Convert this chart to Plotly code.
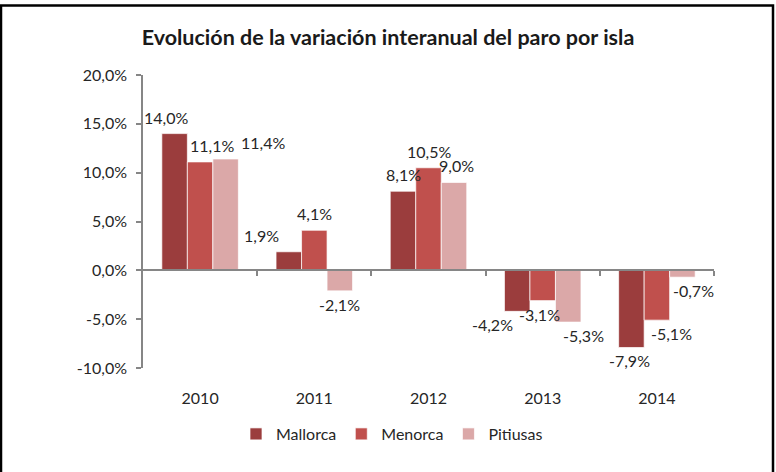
import plotly.graph_objects as go

years = ["2010", "2011", "2012", "2013", "2014"]
series_names = ["Mallorca", "Menorca", "Pitiusas"]
mallorca = [14.0, 1.9, 8.1, -4.2, -7.9]
menorca = [11.1, 4.1, 10.5, -3.1, -5.1]
pitiusas = [11.4, -2.1, 9.0, -5.3, -0.7]
colors = ["#9B3D3D", "#C0504D", "#DBA8A8"]
y_ticks = [-10, -5, 0, 5, 10, 15, 20]
y_ticktext = ["-10,0%", "-5,0%", "0,0%", "5,0%", "10,0%", "15,0%", "20,0%"]

# label nudges (px) to mimic the reference's label placement
label_xshift = [
    [-9, 12, 37],
    [-27, 0, 0],
    [0, 0, 2],
    [-25, -3, 15],
    [-2, 15, 11],
]

values = [mallorca, menorca, pitiusas]
xpos = list(range(len(years)))
bargap = 0.33
bw = (1 - bargap) / 3

FONT = "Lato"
TXT = "#262626"

fig = go.Figure()
for name, vals, col in zip(series_names, values, colors):
    fig.add_trace(go.Bar(
        x=xpos, y=vals, name=name,
        marker=dict(color=col, line=dict(color="rgba(255,255,255,0.7)", width=1)),
        hoverinfo="skip",
    ))

# invisible trace for the zero-line axis with category boundary ticks
fig.add_trace(go.Scatter(x=[-0.5, 4.5], y=[0, 0], xaxis="x2", mode="lines",
                         line=dict(color="rgba(0,0,0,0)"), showlegend=False, hoverinfo="skip"))

annotations = []
for si, vals in enumerate(values):
    for ci, v in enumerate(vals):
        x = ci + (si - 1) * bw
        pos = v >= 0
        annotations.append(dict(
            x=x, y=v, xref="x", yref="y",
            text=f"{v:.1f}".replace(".", ",") + "%",
            showarrow=False,
            xanchor="center",
            yanchor="bottom" if pos else "top",
            yshift=5 if pos else -2,
            xshift=label_xshift[ci][si],
            font=dict(family=FONT, size=16, color=TXT),
        ))

fig.update_layout(
    width=776, height=472,
    margin=dict(l=143, r=62, t=75, b=104, autoexpand=False),
    paper_bgcolor="white", plot_bgcolor="white",
    separators=",.",
    barmode="group", bargap=bargap, bargroupgap=0,
    font=dict(family=FONT, size=16, color=TXT),
    title=dict(text="<b>Evolución de la variación interanual del paro por isla</b>",
               x=0.5, xref="container", xanchor="center",
               y=1 - 37 / 472, yref="container", yanchor="middle",
               font=dict(family=FONT, size=21.5, color="#1a1a1a")),
    xaxis=dict(range=[-0.5, 4.5], tickvals=xpos, ticktext=years,
               showline=False, showgrid=False, zeroline=False,
               ticks="", ticklabelstandoff=19, automargin=False,
               tickfont=dict(family=FONT, size=16, color=TXT)),
    xaxis2=dict(range=[-0.5, 4.5], overlaying="x", anchor="free", position=1 / 3,
                side="bottom",
                tickvals=[0.5, 1.5, 2.5, 3.5, 4.5], showticklabels=False,
                ticks="outside", ticklen=5, tickcolor="#868686", tickwidth=1.5,
                showline=True, linecolor="#868686", linewidth=1.5,
                showgrid=False, zeroline=False, automargin=False),
    yaxis=dict(range=[-10, 20], tickvals=y_ticks, ticktext=y_ticktext,
               showline=True, linecolor="#868686", linewidth=1.5,
               ticks="outside", ticklen=5, tickcolor="#868686", tickwidth=1.5,
               showgrid=False, zeroline=False, ticklabelstandoff=6, automargin=False,
               tickfont=dict(family=FONT, size=16, color=TXT)),
    legend=dict(orientation="h", x=(392 - 143) / 571, xanchor="center",
                y=(368 - 434) / 293, yanchor="middle",
                font=dict(family=FONT, size=16, color=TXT),
                itemwidth=30, traceorder="normal"),
    annotations=annotations,
    showlegend=True,
)

# outer black frame of the chart area
fig.add_shape(type="rect", xref="paper", yref="paper",
              x0=(1 - 143) / 571, x1=(773 - 143) / 571,
              y0=(368 - 490) / 293, y1=(368 - 5.5) / 293,
              line=dict(color="black", width=2.5), layer="above")

fig.write_html("out.html", config={"displayModeBar": False},
               post_script="document.body.style.margin='0px';")
